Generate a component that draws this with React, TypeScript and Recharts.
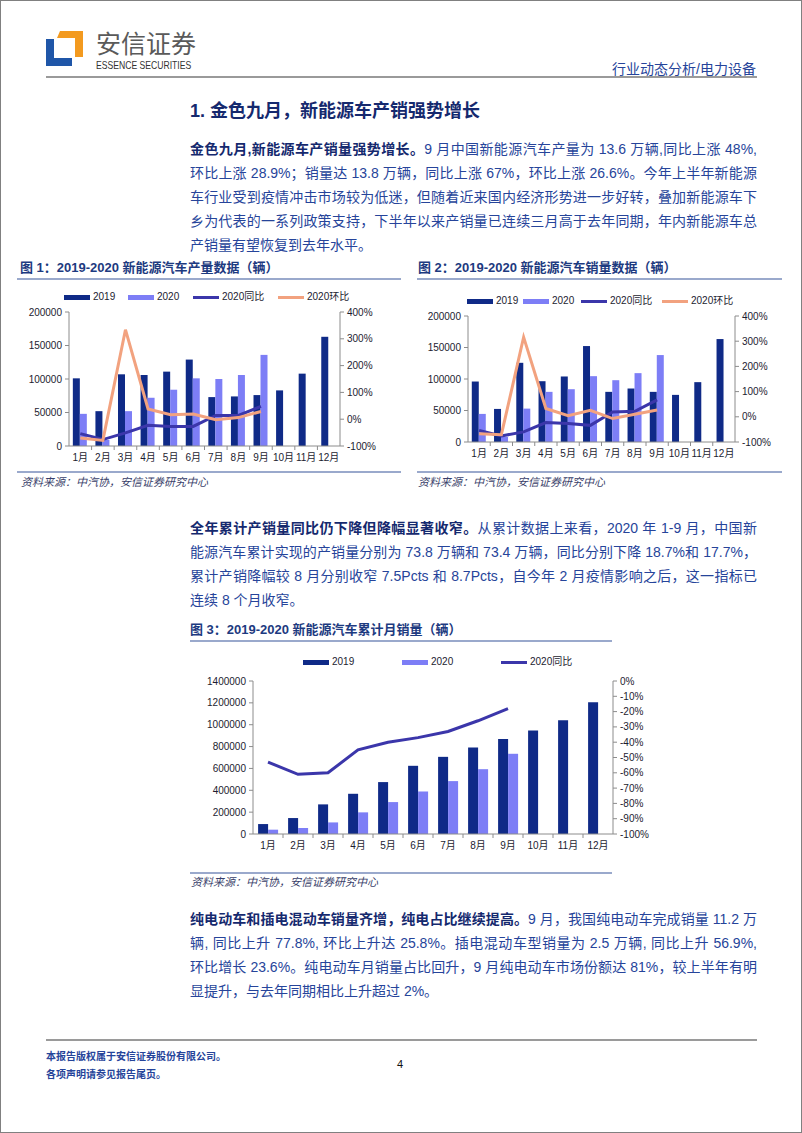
import React from 'react';
import { ComposedChart, Bar, Line, XAxis, YAxis } from 'recharts';

// ---- data ----
const months = ['1月', '2月', '3月', '4月', '5月', '6月', '7月', '8月', '9月', '10月', '11月', '12月'];

// 图1 产量
const prod2019 = [101000, 52000, 107000, 106000, 111000, 129000, 73000, 74000, 76000, 83000, 108000, 163000];
const prod2020 = [48000, 9000, 52000, 72000, 84000, 101000, 100000, 106000, 136000];
const prodYoy = [-54, -76, -51, -23, -27, -27, 14, 14, 48];
const prodMom = [-70, -79, 334, 38, 17, 19, -2, 6, 29];

// 图2 销量
const sales2019 = [96000, 52500, 125700, 96500, 104000, 152300, 79600, 84900, 79600, 74800, 95000, 163400];
const sales2020 = [44600, 8000, 53000, 79600, 83800, 104500, 98100, 109300, 138000];
const salesYoy = [-54, -76, -60, -23, -27, -34, 19, 22, 67];
const salesMom = [-67, -71, 316, 33, 4, 26, -7, 10, 27];

// 图3 累计销量
const cum2019 = [91000, 146000, 271000, 368000, 475000, 624000, 706000, 791000, 870000, 946000, 1041000, 1205000];
const cum2020 = [39500, 55000, 106000, 198000, 292000, 389000, 484000, 593000, 734000];
const cumYoy = [-53, -61, -60, -45, -40, -37, -33, -26, -18];

const ticks200k = [0, 50000, 100000, 150000, 200000];
const ticksPct400 = [-100, 0, 100, 200, 300, 400];
const ticks1400k = [0, 200000, 400000, 600000, 800000, 1000000, 1200000, 1400000];
const ticksPct0 = [-100, -90, -80, -70, -60, -50, -40, -30, -20, -10, 0];

const C19 = '#0f2a87';
const C20 = '#7d7ef6';
const CYOY = '#3b36aa';
const CMOM = '#f2a27f';
const AXIS = '#8c8c8c';
const FONT = '"Liberation Sans", Arial, "Noto Sans CJK SC", sans-serif';
const BODY = '#26449a';
const DARK = '#15296e';

const build = (a: number[], b: number[], c: number[], d?: number[]) =>
  months.map((m, i) => ({
    month: m,
    y2019: a[i],
    y2020: b[i] ?? null,
    yoy: c[i] ?? null,
    mom: d ? d[i] ?? null : null,
  }));

const MonthTick = (props: any) => {
  const { x, y, payload, bw, last } = props;
  return (
    <g>
      {!last(payload.value) && (
        <line x1={x + bw / 2} x2={x + bw / 2} y1={y} y2={y + 4} stroke={AXIS} />
      )}
      <text x={x} y={y + 15} textAnchor="middle" fontSize={10} fill="#1c1c30" fontFamily={FONT}>
        {payload.value}
      </text>
    </g>
  );
};

type ChartProps = {
  left: number;
  top: number;
  width: number;
  height: number;
  leftW: number;
  rightW: number;
  mTop: number;
  data: any[];
  leftDomain: number[];
  leftTicks: number[];
  rightDomain: number[];
  rightTicks: number[];
  withMom: boolean;
  gap: string;
};

function DualChart(p: ChartProps) {
  const bw = (p.width - p.leftW - p.rightW) / months.length;
  const tickStyle = { fontSize: 10, fill: '#1c1c30', fontFamily: FONT };
  return (
    <div style={{ position: 'absolute', left: p.left, top: p.top }}>
      <ComposedChart
        width={p.width}
        height={p.height}
        data={p.data}
        margin={{ top: p.mTop, right: 0, left: 0, bottom: 0 }}
        barGap={0}
        barCategoryGap={p.gap}
      >
        <XAxis
          dataKey="month"
          height={24}
          tickSize={0}
          tickMargin={0}
          tickLine={false}
          interval={0}
          axisLine={{ stroke: AXIS }}
          tick={(t: any) => <MonthTick {...t} bw={bw} last={(v: string) => v === '12月'} />}
        />
        <YAxis
          yAxisId="left"
          width={p.leftW}
          domain={p.leftDomain}
          ticks={p.leftTicks}
          interval={0}
          tickSize={4}
          tickMargin={3}
          axisLine={{ stroke: AXIS }}
          tickLine={{ stroke: AXIS }}
          tick={tickStyle}
        />
        <YAxis
          yAxisId="right"
          orientation="right"
          width={p.rightW}
          domain={p.rightDomain}
          ticks={p.rightTicks}
          interval={0}
          tickSize={4}
          tickMargin={3}
          axisLine={{ stroke: AXIS }}
          tickLine={{ stroke: AXIS }}
          tick={tickStyle}
          tickFormatter={(v: number) => v + '%'}
        />
        <Bar yAxisId="left" dataKey="y2019" fill={C19} isAnimationActive={false} />
        <Bar yAxisId="left" dataKey="y2020" fill={C20} isAnimationActive={false} />
        <Line
          yAxisId="right"
          type="linear"
          dataKey="yoy"
          stroke={CYOY}
          strokeWidth={3}
          dot={false}
          isAnimationActive={false}
        />
        {p.withMom && (
          <Line
            yAxisId="right"
            type="linear"
            dataKey="mom"
            stroke={CMOM}
            strokeWidth={3}
            dot={false}
            isAnimationActive={false}
          />
        )}
      </ComposedChart>
    </div>
  );
}

const legendItems = [
  { label: '2019', color: C19, kind: 'bar' },
  { label: '2020', color: C20, kind: 'bar' },
  { label: '2020同比', color: CYOY, kind: 'line' },
  { label: '2020环比', color: CMOM, kind: 'line' },
];

function Legend({ xs, y }: { xs: number[]; y: number }) {
  return (
    <>
      {xs.map((x, i) => {
        const it = legendItems[i];
        return (
          <div key={it.label} style={{ position: 'absolute', left: x, top: y - 7, height: 14, display: 'flex', alignItems: 'center' }}>
            <div
              style={{
                width: 26,
                height: it.kind === 'bar' ? 5 : 3,
                background: it.color,
                marginRight: 3,
              }}
            />
            <span style={{ fontSize: 10, color: '#1c1c30', fontFamily: FONT, lineHeight: '14px' }}>{it.label}</span>
          </div>
        );
      })}
    </>
  );
}

function Txt(props: {
  x: number;
  y: number;
  size: number;
  color?: string;
  bold?: boolean;
  italic?: boolean;
  w?: number;
  justify?: boolean;
  family?: string;
  scaleX?: number;
  children: React.ReactNode;
}) {
  const lh = Math.round(props.size * 1.4);
  return (
    <div
      style={{
        position: 'absolute',
        left: props.x,
        top: props.y - lh / 2,
        width: props.w,
        fontSize: props.size,
        lineHeight: lh + 'px',
        color: props.color || BODY,
        fontWeight: props.bold ? 700 : 400,
        fontStyle: props.italic ? 'italic' : 'normal',
        fontFamily: props.family || FONT,
        textAlign: props.justify ? 'justify' : 'left',
        textAlignLast: props.justify ? 'justify' : 'left',
        whiteSpace: props.w ? 'normal' : 'nowrap',
        transform: props.scaleX ? `scaleX(${props.scaleX})` : undefined,
        transformOrigin: 'left center',
      }}
    >
      {props.children}
    </div>
  );
}

const HLine = ({ x1, x2, y, color, h = 1 }: { x1: number; x2: number; y: number; color: string; h?: number }) => (
  <div style={{ position: 'absolute', left: x1, top: y, width: x2 - x1, height: h, background: color }} />
);

type Para = { b?: string; t: string }[];

const para1: Para = [
  { b: '金色九月,新能源车产销量强势增长。', t: '9 月中国新能源汽车产量为 13.6 万辆,同比上涨 48%,' },
  { t: '环比上涨 28.9%；销量达 13.8 万辆，同比上涨 67%，环比上涨 26.6%。今年上半年新能源' },
  { t: '车行业受到疫情冲击市场较为低迷，但随着近来国内经济形势进一步好转，叠加新能源车下' },
  { t: '乡为代表的一系列政策支持，下半年以来产销量已连续三月高于去年同期，年内新能源车总' },
  { t: '产销量有望恢复到去年水平。' },
];
const para2: Para = [
  { b: '全年累计产销量同比仍下降但降幅显著收窄。', t: '从累计数据上来看，2020 年 1-9 月，中国新' },
  { t: '能源汽车累计实现的产销量分别为 73.8 万辆和 73.4 万辆，同比分别下降 18.7%和 17.7%，' },
  { t: '累计产销降幅较 8 月分别收窄 7.5Pcts 和 8.7Pcts，自今年 2 月疫情影响之后，这一指标已' },
  { t: '连续 8 个月收窄。' },
];
const para3: Para = [
  { b: '纯电动车和插电混动车销量齐增，纯电占比继续提高。', t: '9 月，我国纯电动车完成销量 11.2 万' },
  { t: '辆, 同比上升 77.8%, 环比上升达 25.8%。插电混动车型销量为 2.5 万辆, 同比上升 56.9%,' },
  { t: '环比增长 23.6%。纯电动车月销量占比回升，9 月纯电动车市场份额达 81%，较上半年有明' },
  { t: '显提升，与去年同期相比上升超过 2%。' },
];

function Paragraph({ lines, y0 }: { lines: Para; y0: number }) {
  return (
    <>
      {lines.map((l, i) => (
        <Txt key={i} x={190} y={y0 + i * 24} size={14} w={567} justify={i < lines.length - 1}>
          {l.b && <span style={{ fontWeight: 700, color: DARK }}>{l.b}</span>}
          {l.t}
        </Txt>
      ))}
    </>
  );
}

export default function App() {
  const d1 = build(prod2019, prod2020, prodYoy, prodMom);
  const d2 = build(sales2019, sales2020, salesYoy, salesMom);
  const d3 = build(cum2019, cum2020, cumYoy);
  return (
    <div
      style={{
        position: 'absolute',
        left: 0,
        top: 0,
        width: 802,
        height: 1133,
        background: '#fff',
        boxShadow: 'inset 0 0 0 1px #808080',
        overflow: 'hidden',
        fontFamily: FONT,
      }}
    >
      {/* header */}
      <svg style={{ position: 'absolute', left: 46, top: 30 }} width={38} height={37}>
        <polygon points="14,1 37,1 37,27 29,27 29,8 11,8" fill="#f39a1f" />
        <polygon points="0,9 8,9 8,28 26,28 26,36 0,36" fill="#1f56a8" />
      </svg>
      <Txt x={96} y={44} size={25} color="#5a5a5a">安信证券</Txt>
      <Txt x={96} y={65} size={10.5} color="#333" scaleX={0.82}>
        ESSENCE SECURITIES
      </Txt>
      <Txt x={612} y={69} size={14} color={BODY}>行业动态分析/电力设备</Txt>
      <HLine x1={46} x2={757} y={76} color="#9a9a9a" h={2} />

      <Txt x={190} y={111} size={18} bold color={DARK}>1. 金色九月，新能源车产销强势增长</Txt>
      <Paragraph lines={para1} y0={149} />

      {/* 图1 */}
      <Txt x={20} y={268} size={13} bold color="#1d3a80">图 1：2019-2020 新能源汽车产量数据（辆）</Txt>
      <HLine x1={17} x2={401} y={278} color="#9aa9cc" h={2} />
      <Legend xs={[64, 128, 193, 278]} y={297} />
      <DualChart
        left={18}
        top={285}
        width={382}
        height={185}
        leftW={51}
        rightW={60}
        mTop={27}
        data={d1}
        leftDomain={[0, 200000]}
        leftTicks={ticks200k}
        rightDomain={[-100, 400]}
        rightTicks={ticksPct400}
        withMom
        gap="17%"
      />
      <HLine x1={17} x2={401} y={471} color="#9aa9cc" h={2} />
      <Txt x={21} y={482} size={11} italic color="#3a3f6a">资料来源：中汽协，安信证券研究中心</Txt>

      {/* 图2 */}
      <Txt x={418} y={268} size={13} bold color="#1d3a80">图 2：2019-2020 新能源汽车销量数据（辆）</Txt>
      <HLine x1={417} x2={782} y={278} color="#9aa9cc" h={2} />
      <Legend xs={[467, 523, 581, 662]} y={301} />
      <DualChart
        left={418}
        top={290}
        width={364}
        height={176}
        leftW={50}
        rightW={47}
        mTop={26}
        data={d2}
        leftDomain={[0, 200000]}
        leftTicks={ticks200k}
        rightDomain={[-100, 400]}
        rightTicks={ticksPct400}
        withMom
        gap="17%"
      />
      <HLine x1={417} x2={782} y={471} color="#9aa9cc" h={2} />
      <Txt x={418} y={482} size={11} italic color="#3a3f6a">资料来源：中汽协，安信证券研究中心</Txt>

      <Paragraph lines={para2} y0={528} />

      {/* 图3 */}
      <Txt x={190} y={630} size={13} bold color="#1d3a80">图 3：2019-2020 新能源汽车累计月销量（辆）</Txt>
      <HLine x1={190} x2={612} y={640} color="#9aa9cc" h={2} />
      <Legend xs={[303, 402, 501]} y={662} />
      <DualChart
        left={190}
        top={670}
        width={470}
        height={188}
        leftW={63}
        rightW={47}
        mTop={11}
        data={d3}
        leftDomain={[0, 1400000]}
        leftTicks={ticks1400k}
        rightDomain={[-100, 0]}
        rightTicks={ticksPct0}
        withMom={false}
        gap="17%"
      />
      <HLine x1={190} x2={612} y={872} color="#9aa9cc" h={2} />
      <Txt x={191} y={882} size={11} italic color="#3a3f6a">资料来源：中汽协，安信证券研究中心</Txt>

      <Paragraph lines={para3} y0={919} />

      {/* footer */}
      <HLine x1={46} x2={757} y={1039} color="#9a9a9a" h={2} />
      <Txt x={46} y={1057} size={10} bold color={BODY}>本报告版权属于安信证券股份有限公司。</Txt>
      <Txt x={46} y={1075} size={10} bold color={BODY}>各项声明请参见报告尾页。</Txt>
      <Txt x={397} y={1064} size={11} color="#111">4</Txt>
    </div>
  );
}
